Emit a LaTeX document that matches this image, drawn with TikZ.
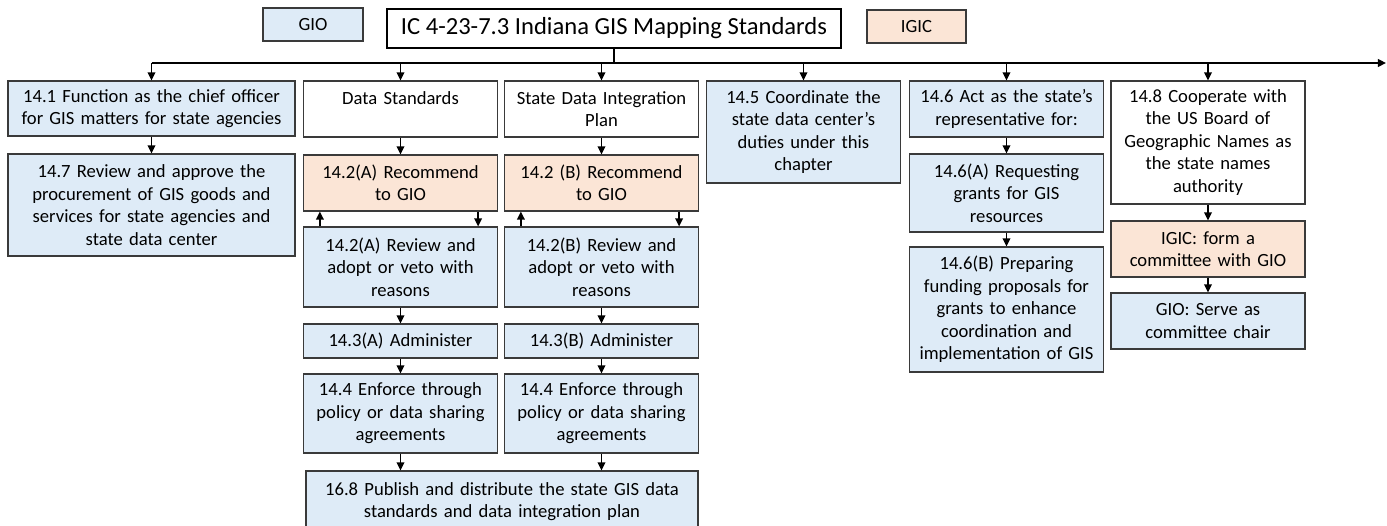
\documentclass[tikz,border=0pt]{standalone}
\usepackage{fontspec}
\setmainfont{Carlito}
\usetikzlibrary{arrows.meta}

\definecolor{giofill}{HTML}{DEEBF7}
\definecolor{igicfill}{HTML}{FBE5D6}
\definecolor{boxline}{HTML}{3A3A3A}

\tikzset{
	box/.style = {draw = boxline, line width = 0.7pt, align = center,
		inner xsep = 0.04cm, inner ysep = 0pt,
		font = \fontsize{10.6}{12.8}\selectfont},
	gio/.style = {box, fill = giofill},
	igic/.style = {box, fill = igicfill},
	plain/.style = {box, fill = white},
	narrow/.style = {text width = 3.8cm},
	wide/.style = {text width = 5.66cm},
	link/.style = {->, >={Triangle[length = 4.6pt, width = 4.4pt]}, line width = 0.85pt},
}

\begin{document}
\begin{tikzpicture}[x = 0.02cm, y = -0.02cm]
		\useasboundingbox (0,0) rectangle (1387,526);
		% 凡例・タイトル
		\node [gio, minimum width = 2cm, minimum height = 0.66cm] (legGIO) at (313,24.5) {GIO};
		\node [plain, draw = black, line width = 1pt, minimum width = 9.08cm, minimum height = 0.78cm,
			font = \fontsize{14}{16}\selectfont] (title) at (614,28.5) {IC 4-23-7.3 Indiana GIS Mapping Standards};
		\node [igic, minimum width = 1.98cm, minimum height = 0.66cm] (legIGIC) at (916.5,26.5) {IGIC};
		% 14.1・14.7
		\node [gio, wide, minimum height = 1.1cm] (chief) at (151.5,108.5)
			{14.1 Function as the chief officer\\for GIS matters for state agencies};
		\node [gio, wide, minimum height = 2.04cm] (procure) at (151.5,205)
			{14.7 Review and approve the\\procurement of GIS goods and\\services for state agencies and\\state data center};
		% データ標準
		\node [plain, narrow, minimum height = 1.12cm] (dstd) at (400.5,109) {Data Standards\\\mbox{}};
		\node [igic, narrow, minimum height = 1.12cm] (recA) at (400.5,183) {14.2(A) Recommend\\to GIO};
		\node [gio, narrow, minimum height = 1.6cm] (revA) at (400.5,267) {14.2(A) Review and\\adopt or veto with\\reasons};
		\node [gio, narrow, minimum height = 0.68cm] (admA) at (400.5,341) {14.3(A) Administer};
		\node [gio, narrow, minimum height = 1.58cm] (enfA) at (400.5,413.5) {14.4 Enforce through\\policy or data sharing\\agreements};
		% データ統合計画
		\node [plain, narrow, minimum height = 1.12cm] (sdip) at (601.5,109) {State Data Integration\\Plan};
		\node [igic, narrow, minimum height = 1.12cm] (recB) at (601.5,183) {14.2 (B) Recommend\\to GIO};
		\node [gio, narrow, minimum height = 1.6cm] (revB) at (601.5,267) {14.2(B) Review and\\adopt or veto with\\reasons};
		\node [gio, narrow, minimum height = 0.68cm] (admB) at (601.5,341) {14.3(B) Administer};
		\node [gio, narrow, minimum height = 1.58cm] (enfB) at (601.5,413.5) {14.4 Enforce through\\policy or data sharing\\agreements};
		\node [gio, text width = 7.76cm, minimum height = 1.22cm] (publish) at (502,501.5)
			{16.8 Publish and distribute the state GIS data\\standards and data integration plan};
		% 14.5
		\node [gio, narrow, minimum height = 2.04cm] (coord) at (803.5,132)
			{14.5 Coordinate the\\state data center’s\\duties under this\\chapter};
		% 14.6
		\node [gio, narrow, minimum height = 1.12cm] (rep) at (1006.5,109) {14.6 Act as the state’s\\representative for:};
		\node [gio, narrow, minimum height = 1.56cm] (grantA) at (1006.5,193) {14.6(A) Requesting\\grants for GIS\\resources};
		\node [gio, narrow, minimum height = 2.5cm] (grantB) at (1006.5,309.5)
			{14.6(B) Preparing\\funding proposals for\\grants to enhance\\coordination and\\implementation of GIS};
		% 14.8
		\node [plain, narrow, minimum height = 2.46cm] (names) at (1208,142.5)
			{14.8 Cooperate with\\the US Board of\\Geographic Names as\\the state names\\authority};
		\node [igic, narrow, minimum height = 1.12cm] (committee) at (1208,249) {IGIC: form a\\committee with GIO};
		\node [gio, narrow, minimum height = 1.12cm] (chair) at (1208,321) {GIO: Serve as\\committee chair};
		% 幹線
		\coordinate (busR) at (1386,63);
		\draw [line width = 0.85pt] (title.south) -- (title.south |- busR);
		\draw [link] (chief.north |- busR) -- (busR);
		\foreach \n in {chief, dstd, sdip, coord, rep, names}
			\draw [link] (\n.north |- busR) -- (\n.north);
		% 列内の矢印
		\foreach \a/\b in {chief/procure, dstd/recA, revA/admA, admA/enfA, sdip/recB, revB/admB,
			admB/enfB, rep/grantA, grantA/grantB, names/committee, committee/chair}
			\draw [link] (\a) -- (\b);
		% 推薦・審査
		\foreach \r/\v in {recA/revA, recB/revB} {
			\draw [link] ([xshift = 0.34cm]\v.north west) -- ([xshift = 0.34cm]\r.south west);
			\draw [link] ([xshift = -0.4cm]\r.south east) -- ([xshift = -0.4cm]\v.north east);
		}
		% 公開
		\draw [link] (enfA) -- (enfA |- publish.north);
		\draw [link] (enfB) -- (enfB |- publish.north);
	\end{tikzpicture}
\end{document}
